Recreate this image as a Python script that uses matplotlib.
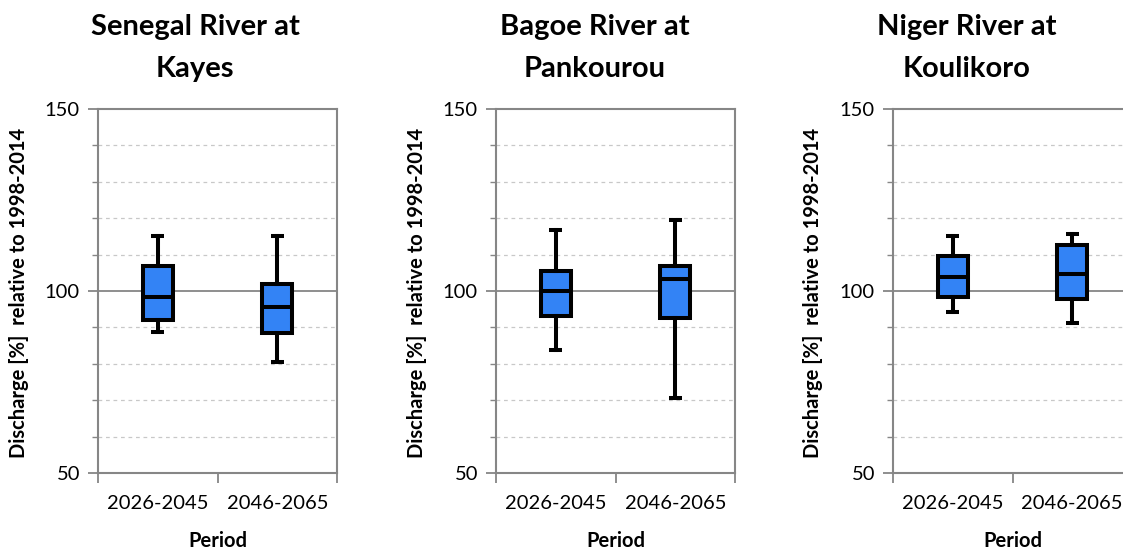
import matplotlib
matplotlib.use("Agg")
import matplotlib.pyplot as plt
from matplotlib.ticker import MultipleLocator, FixedLocator, NullFormatter

plt.rcParams['font.family'] = ['Lato', 'DejaVu Sans']

titles = ["Senegal River at\nKayes", "Bagoe River at\nPankourou", "Niger River at\nKoulikoro"]
periods = ["2026-2045", "2046-2065"]

# whisker low, q1, median, q3, whisker high for each period
senegal_low = [88.6, 80.4]
senegal_q1 = [92.0, 88.5]
senegal_med = [98.4, 95.5]
senegal_q3 = [107.0, 101.9]
senegal_high = [115.1, 115.0]

bagoe_low = [83.8, 70.7]
bagoe_q1 = [93.1, 92.7]
bagoe_med = [100.0, 103.2]
bagoe_q3 = [105.6, 107.0]
bagoe_high = [116.8, 119.4]

niger_low = [94.3, 91.1]
niger_q1 = [98.3, 97.8]
niger_med = [103.9, 104.8]
niger_q3 = [109.7, 112.6]
niger_high = [115.0, 115.7]

rivers = [
    (senegal_low, senegal_q1, senegal_med, senegal_q3, senegal_high),
    (bagoe_low, bagoe_q1, bagoe_med, bagoe_q3, bagoe_high),
    (niger_low, niger_q1, niger_med, niger_q3, niger_high),
]

W, H = 1123, 550
fig = plt.figure(figsize=(W / 100, H / 100), dpi=100)

ax_left_px = [98, 496, 893]
ax_w_px = 239
ax_top_px, ax_bot_px = 109, 473
title_cx = [195, 595, 967]
ylabel_x = [19, 417, 813]

blue = "#3383F5"
grey = "#868686"
lw = 2.9
fs = 14.5

for i, (lo, q1, med, q3, hi) in enumerate(rivers):
    ax = fig.add_axes([ax_left_px[i] / W, 1 - ax_bot_px / H, ax_w_px / W,
                       (ax_bot_px - ax_top_px) / H])
    stats = []
    for j in range(len(periods)):
        stats.append(dict(whislo=lo[j], q1=q1[j], med=med[j], q3=q3[j],
                          whishi=hi[j], fliers=[], label=periods[j]))
    ax.bxp(stats, positions=[1, 2], widths=0.25, capwidths=0.11,
           showfliers=False, patch_artist=True,
           boxprops=dict(facecolor=blue, edgecolor="black", linewidth=lw),
           medianprops=dict(color="black", linewidth=lw, solid_capstyle="butt"),
           whiskerprops=dict(color="black", linewidth=lw),
           capprops=dict(color="black", linewidth=lw, solid_capstyle="butt"),
           zorder=3)
    ax.set_xlim(0.5, 2.5)
    ax.set_ylim(50, 150)

    # y axis
    ax.yaxis.set_major_locator(FixedLocator([50, 100, 150]))
    ax.yaxis.set_minor_locator(MultipleLocator(10))
    ax.tick_params(axis='y', which='major', length=7, width=1.3, color=grey,
                   labelsize=fs, pad=6, direction='out')
    ax.tick_params(axis='y', which='minor', length=4, width=1.0, color=grey)
    ax.grid(axis='y', which='minor', linestyle=(0, (3, 3)), color="#c8c8c8",
            linewidth=0.9, zorder=0)
    ax.axhline(100, color=grey, linewidth=1.3, zorder=1)

    # x axis: tick marks at category boundaries, labels at centres
    ax.xaxis.set_major_locator(FixedLocator([0.5, 1.5, 2.5]))
    ax.xaxis.set_major_formatter(NullFormatter())
    ax.xaxis.set_minor_locator(FixedLocator([1, 2]))
    ax.set_xticks([1, 2], labels=periods, minor=True)
    ax.tick_params(axis='x', which='major', length=7, width=1.3, color=grey)
    ax.tick_params(axis='x', which='minor', length=0, labelsize=fs, pad=16)

    for s in ax.spines.values():
        s.set_color(grey)
        s.set_linewidth(1.5)

    fig.text((ax_left_px[i] + ax_w_px / 2) / W, 1 - 541 / H, "Period",
             ha='center', va='center', fontsize=fs, fontweight='bold')
    fig.text(ylabel_x[i] / W, 1 - 293 / H, "Discharge [%]  relative to 1998-2014",
             rotation=90, ha='center', va='center', fontsize=fs,
             fontweight='bold')
    l1, l2 = titles[i].split("\n")
    fig.text(title_cx[i] / W, 1 - 35 / H, l1, ha='center', va='baseline',
             fontsize=21, fontweight='bold')
    fig.text(title_cx[i] / W, 1 - 77 / H, l2, ha='center', va='baseline',
             fontsize=21, fontweight='bold')

fig.savefig("out.png", dpi=100)
